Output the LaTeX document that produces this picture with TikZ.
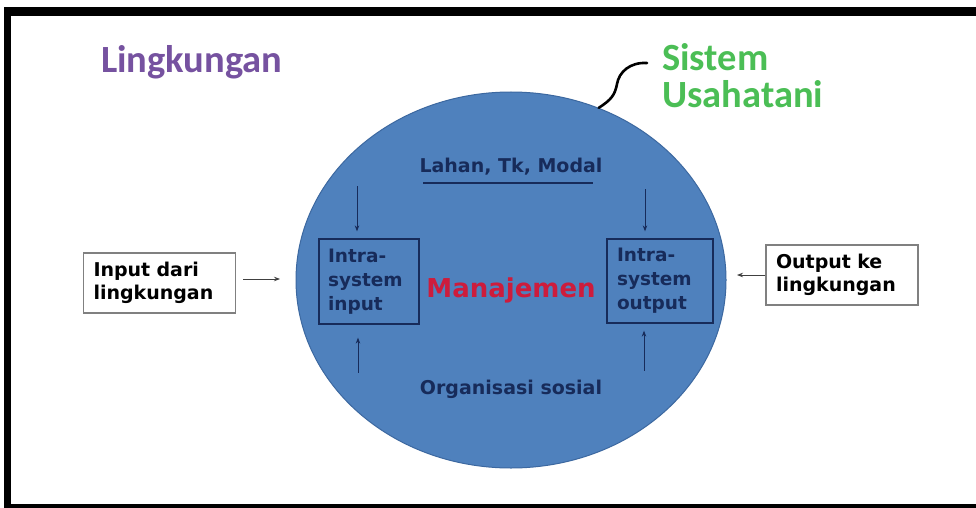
\documentclass[tikz,border=0pt]{standalone}
\usepackage{fontspec}
\newfontfamily\dvs{DejaVu Sans}
\newfontfamily\calb{Carlito}
\usetikzlibrary{shapes.geometric,arrows.meta}
\definecolor{ellblue}{RGB}{79,129,189}
\definecolor{ellborder}{RGB}{60,104,160}
\definecolor{navy}{RGB}{23,43,90}
\definecolor{redtxt}{RGB}{205,28,60}
\definecolor{purp}{RGB}{118,82,160}
\definecolor{grn}{RGB}{75,190,85}
\definecolor{boxgray}{RGB}{128,128,128}
\begin{document}
\begin{tikzpicture}[x=1pt,y=-1pt,
  inbox/.style={draw=navy, line width=1.3pt, text=navy, align=left,
    font=\dvs\bfseries\fontsize{18.5}{24}\selectfont, inner ysep=0pt},
  outbox/.style={draw=boxgray, line width=1.3pt, fill=white, text=black, align=left,
    font=\dvs\bfseries\fontsize{19}{23}\selectfont, inner ysep=0pt, inner xsep=10pt,
    text width=132pt, minimum height=60pt},
  navytxt/.style={text=navy, font=\dvs\bfseries\fontsize{19}{23}\selectfont, inner sep=0pt},
  bigtxt/.style={font=\calb\bfseries\fontsize{38.5}{37}\selectfont, inner sep=0pt, align=left},
  narr/.style={draw=navy, line width=0.8pt, -{Stealth[length=6pt,width=4.5pt]}},
  garr/.style={draw=black!75, line width=0.8pt, -{Stealth[length=6pt,width=4.5pt]}}
]
\useasboundingbox (0,0) rectangle (976,508);
\fill[white] (0,0) rectangle (976,508);
% frame
\fill[black] (4,7) rectangle (995,508);
\fill[white] (11,16) rectangle (995,504);

% system ellipse
\node[ellipse, fill=ellblue, draw=ellborder, line width=1pt, minimum width=430pt,
      minimum height=376pt, inner sep=0pt] (sys) at (511,280) {};

% titles
\node[bigtxt, text=purp, anchor=base west] (ling) at (101,73) {Lingkungan};
\node[bigtxt, text=grn, anchor=west] (sis) at (662,76) {Sistem\\Usahatani};

% curve from label to ellipse
\coordinate (cs) at (647,63);
\draw[black, line width=2.6pt, line cap=round, line join=round]
  (cs) .. controls (630,62) and (619,72) .. (617,84)
       .. controls (615,95) and (611,100) .. (sys.63);

% texts inside ellipse
\node[navytxt, anchor=base] (lahan) at (511,172) {Lahan, Tk, Modal};
\draw[navy, line width=1.3pt] ([shift={(4,8)}]lahan.south west) -- ([shift={(-10,8)}]lahan.south east);
\node[text=redtxt, font=\dvs\bfseries\fontsize{26}{30}\selectfont, inner sep=0pt, anchor=base]
  (man) at (511,297) {Manajemen};
\node[navytxt, anchor=base] (org) at (511,394) {Organisasi sosial};

% inner boxes
\node[inbox, inner xsep=9pt, text width=82pt, minimum height=85pt] (lbox) at (369,281.5)
  {Intra-\\system\\input};
\node[inbox, inner xsep=10pt, text width=86pt, minimum height=84pt] (rbox) at (660,281)
  {Intra-\\system\\output};

% outer boxes
\node[outbox] (inl) at (159.5,283) {Input dari\\lingkungan};
\node[outbox] (outr) at (842,275) {Output ke\\lingkungan};

% arrows
\coordinate (a1e) at (280,279);
\draw[garr] ([shift={(7,-4)}]inl.east) -- (a1e);
\coordinate (a2e) at (737,275);
\draw[garr] (outr.west) -- (a2e);

\draw[narr] ([shift={(-12,-52)}]lbox.north) -- ([shift={(-12,-7)}]lbox.north);
\draw[narr] ([shift={(-15,-49)}]rbox.north) -- ([shift={(-15,-7)}]rbox.north);
\draw[narr] ([shift={(-11,48)}]lbox.south) -- ([shift={(-11,13)}]lbox.south);
\draw[narr] ([shift={(-16,47)}]rbox.south) -- ([shift={(-16,7)}]rbox.south);
\end{tikzpicture}
\end{document}
